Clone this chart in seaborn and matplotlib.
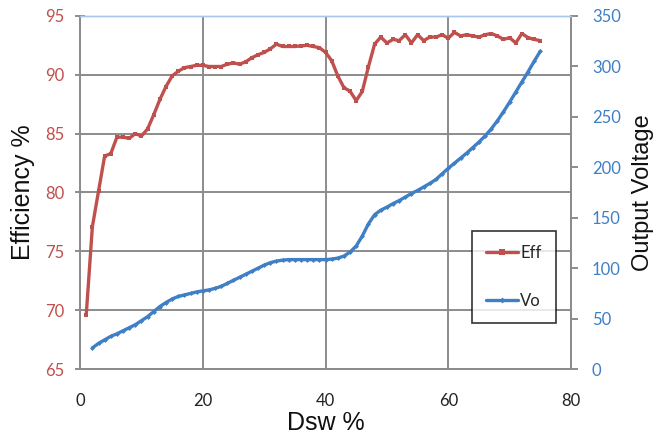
import matplotlib
matplotlib.use("Agg")
import matplotlib.pyplot as plt
import seaborn as sns
import pandas as pd
import numpy as np
from matplotlib.lines import Line2D

# efficiency vs duty (x = 1..75)
dsw_eff = list(range(1, 76))
eff = [69.6, 77.1, 80.1, 83.1, 83.3, 84.7, 84.7, 84.6, 85.0, 84.8,
       85.4, 86.6, 87.9, 89.0, 89.9, 90.3, 90.6, 90.7, 90.8, 90.8,
       90.7, 90.7, 90.7, 90.9, 91.0, 90.9, 91.1, 91.45, 91.7, 91.9,
       92.2, 92.6, 92.4, 92.4, 92.4, 92.45, 92.5, 92.4, 92.3, 91.9,
       91.2, 89.9, 88.9, 88.6, 87.8, 88.6, 90.7, 92.6, 93.2, 92.7,
       93.0, 92.9, 93.4, 92.7, 93.4, 92.9, 93.2, 93.2, 93.4, 93.1,
       93.6, 93.3, 93.4, 93.3, 93.2, 93.4, 93.5, 93.3, 93.0, 93.15,
       92.7, 93.5, 93.15, 93.0, 92.9]

# output voltage vs duty (x = 2..75)
dsw_vo = list(range(2, 76))
vo = [21, 25.5, 29, 32.5, 35, 38, 41, 44, 48, 52,
      57, 62, 66, 69.5, 72, 73.5, 75, 76.5, 77.5, 78.5,
      80, 82, 85, 88, 91, 94, 97, 100, 103, 105.5,
      107, 108, 108.5, 108.5, 108.5, 108.5, 108.5, 108.5, 108.5, 109,
      110, 112, 116, 122, 132, 144, 153, 157.5, 160.5, 164,
      167, 170.5, 174, 177, 180.5, 184, 188, 193.5, 199, 204,
      209, 214, 219.5, 225, 231, 238, 246, 255, 264.5, 274.5,
      284.5, 294.5, 305, 315]

df_eff = pd.DataFrame({"Dsw": dsw_eff, "Eff": eff})
df_vo = pd.DataFrame({"Dsw": dsw_vo, "Vo": vo})

sns.set_style("white")
plt.rcParams['font.family'] = ['Lato', 'DejaVu Sans']

red = "#c0504d"
blue = "#3f7fc6"
grid_c = "#8c8c8c"
label_font = ['Liberation Sans', 'DejaVu Sans']

fig = plt.figure(figsize=(6.62, 4.41), dpi=100)
ax = fig.add_axes([0.121, 0.163, 0.7415, 0.801])
ax2 = ax.twinx()

sns.lineplot(data=df_eff, x="Dsw", y="Eff", ax=ax, color=red, linewidth=2.4,
             marker="s", markersize=3.5, markeredgewidth=0, zorder=3)
sns.lineplot(data=df_vo, x="Dsw", y="Vo", ax=ax2, color=blue, linewidth=2.4,
             marker="D", markersize=2.5, markeredgewidth=0, zorder=3)

ax.set_xlim(0, 80)
ax.set_ylim(65, 95)
ax2.set_ylim(0, 350)
ax.set_xticks([0, 20, 40, 60, 80])
ax.set_yticks([65, 70, 75, 80, 85, 90, 95])
ax2.set_yticks(np.arange(0, 351, 50))

ax.grid(True, color=grid_c, linewidth=1.4)
ax.set_axisbelow(True)
ax2.grid(False)

for a in (ax, ax2):
    for s in a.spines.values():
        s.set_color(grid_c)
        s.set_linewidth(1.4)
    a.spines['top'].set_color("#a9c6ee")
    a.spines['top'].set_linewidth(1.0)

ax.tick_params(axis='y', labelsize=12, direction='inout', length=7,
               width=1.4, color=grid_c, labelcolor=red, pad=8)
ax.tick_params(axis='x', labelsize=12, direction='inout', length=7, width=1.4,
               color=grid_c, labelcolor="#222222", pad=14)
ax2.tick_params(axis='y', labelsize=12, direction='out', length=5, width=1.4,
                color=grid_c, labelcolor=blue, pad=10)

ax.set_xlabel("Dsw %", fontsize=18, color="#111111", labelpad=1, family=label_font)
ax.set_ylabel("Efficiency %", fontsize=18, color="#111111", labelpad=7, family=label_font)
ax2.set_ylabel("Output Voltage", fontsize=17, color="#111111", labelpad=8, family=label_font)

handles = [Line2D([], [], color=red, linewidth=2.4, marker="s", markersize=4, markeredgewidth=0),
           Line2D([], [], color=blue, linewidth=2.4, marker="D", markersize=3, markeredgewidth=0)]
leg = ax2.legend(handles, ["Eff", "Vo"], loc="upper left", bbox_to_anchor=(0.798, 0.391),
                 frameon=True, fancybox=False, prop={'size': 12}, handlelength=1.9,
                 handletextpad=0.15, labelspacing=1.9, borderpad=0.85, borderaxespad=0)
leg.get_frame().set_edgecolor("black")
leg.get_frame().set_linewidth(1.2)

fig.savefig("out.png", dpi=100)
